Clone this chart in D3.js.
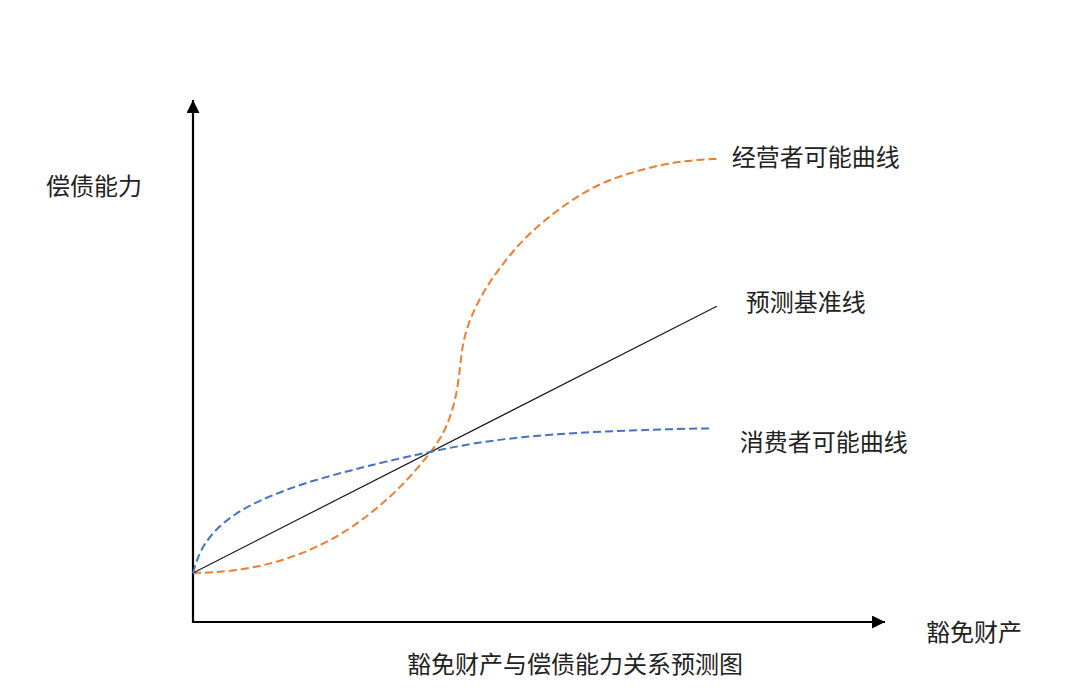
<!DOCTYPE html>
<html lang="zh">
<head>
    <meta charset="UTF-8">
    <title>豁免财产与偿债能力关系预测图</title>
    <style>
        body { margin: 0; background: #fff; }
        svg { display: block; }
        text { font-family: "Noto Sans CJK SC", sans-serif; fill: #222; }
    </style>
</head>
<body>
    <svg width="1080" height="700"></svg>
    <script src="https://d3js.org/d3.v7.min.js"></script>
    <script>
        // 数据 (x: 豁免财产, y: 偿债能力, 0-100)
        const baseX = [0, 75.7]
        const baseY = [9.4, 60.5]

        const bizX = [0, 3.6, 8.5, 13.3, 18.1, 23.0, 27.7, 30.2, 32.5, 34.5, 36.1, 37.4, 38.2, 38.6, 38.9, 39.6, 40.8, 42.3, 44.2, 46.4, 49.1, 54.0, 58.8, 63.6, 68.5, 73.3, 75.7]
        const bizY = [9.4, 9.5, 10.3, 11.9, 14.4, 18.0, 23.0, 26.2, 29.5, 32.8, 35.8, 40.0, 44.4, 48.9, 52.7, 56.5, 60.3, 64.0, 67.6, 71.3, 75.1, 80.3, 84.1, 86.2, 87.9, 88.6, 88.7]

        const conX = [0, 0.7, 1.7, 3.6, 6.1, 8.5, 13.3, 18.1, 23.0, 27.7, 34.5, 41.5, 48.7, 55.9, 63.2, 70.4, 75.1]
        const conY = [9.4, 12.5, 15.1, 18.2, 20.7, 22.6, 25.3, 27.4, 29.1, 30.7, 32.7, 34.5, 35.6, 36.3, 36.7, 37.0, 37.1]

        const seriesNames = ['经营者可能曲线', '预测基准线', '消费者可能曲线']
        const axisTitles = { x: '豁免财产', y: '偿债能力' }
        const chartTitle = '豁免财产与偿债能力关系预测图'

        const svg = d3.select('svg')
        const x = d3.scaleLinear().domain([0, 100]).range([193, 885])
        const y = d3.scaleLinear().domain([0, 100]).range([622, 100])

        const defs = svg.append('defs')
        defs.append('marker')
            .attr('id', 'arrow')
            .attr('viewBox', '0 0 10 10')
            .attr('refX', 10).attr('refY', 5)
            .attr('markerWidth', 13).attr('markerHeight', 13)
            .attr('markerUnits', 'userSpaceOnUse')
            .attr('orient', 'auto')
            .append('path')
                .attr('d', 'M0,0 L10,5 L0,10 Z')
                .attr('fill', '#000')

        // axes
        svg.append('line')
            .attr('x1', x(0)).attr('y1', y(0))
            .attr('x2', x(100)).attr('y2', y(0))
            .attr('stroke', '#000').attr('stroke-width', 2.2)
            .attr('marker-end', 'url(#arrow)')
        svg.append('line')
            .attr('x1', x(0)).attr('y1', y(0) + 1)
            .attr('x2', x(0)).attr('y2', y(100))
            .attr('stroke', '#000').attr('stroke-width', 2.2)
            .attr('marker-end', 'url(#arrow)')

        // basis smooths the hand-read points a little
        const line = d3.line()
            .x(d => x(d[0]))
            .y(d => y(d[1]))
            .curve(d3.curveBasis)

        const series = [
            { name: seriesNames[0], pts: d3.zip(bizX, bizY), color: '#ED7D31', dash: '8,4', w: 2, dx: 15, dy: -3 },
            { name: seriesNames[1], pts: d3.zip(baseX, baseY), color: '#1a1a1a', dash: null, w: 1.2, dx: 29, dy: -6 },
            { name: seriesNames[2], pts: d3.zip(conX, conY), color: '#4472C4', dash: '8,4', w: 2, dx: 27, dy: 12 },
        ]

        svg.selectAll('path.curve')
            .data(series).enter()
            .append('path')
                .attr('class', 'curve')
                .attr('d', d => line(d.pts))
                .attr('fill', 'none')
                .attr('stroke', d => d.color)
                .attr('stroke-width', d => d.w)
                .attr('stroke-dasharray', d => d.dash)

        svg.selectAll('text.label')
            .data(series).enter()
            .append('text')
                .attr('class', 'label')
                .attr('x', d => x(d.pts[d.pts.length - 1][0]) + d.dx)
                .attr('y', d => y(d.pts[d.pts.length - 1][1]) + d.dy)
                .attr('dominant-baseline', 'central')
                .style('font-size', '24px')
                .text(d => d.name)

        svg.append('text')
            .attr('x', 46).attr('y', 184)
            .attr('dominant-baseline', 'central')
            .style('font-size', '24px')
            .text(axisTitles.y)

        svg.append('text')
            .attr('x', 926).attr('y', 630)
            .attr('dominant-baseline', 'central')
            .style('font-size', '24px')
            .text(axisTitles.x)

        svg.append('text')
            .attr('x', 575).attr('y', 662)
            .attr('text-anchor', 'middle')
            .attr('dominant-baseline', 'central')
            .style('font-size', '24px')
            .text(chartTitle)
    </script>
</body>
</html>
